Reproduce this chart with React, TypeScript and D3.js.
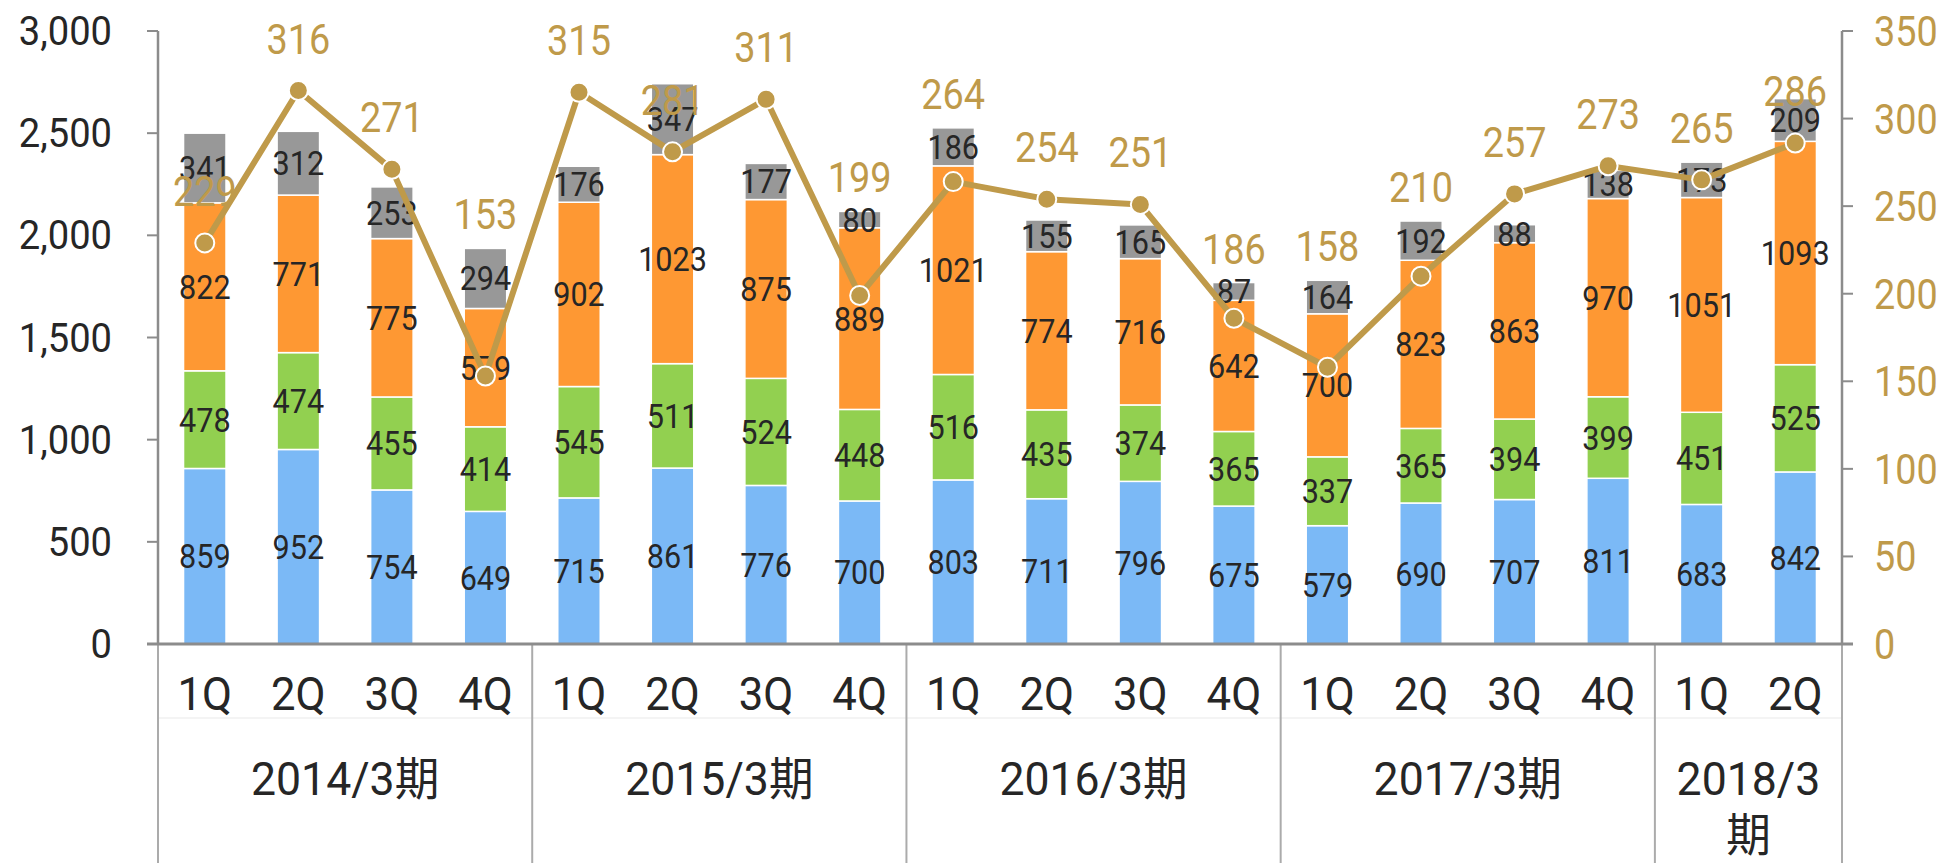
import React from "react";
import * as d3 from "d3";

const quarters = ["1Q","2Q","3Q","4Q","1Q","2Q","3Q","4Q","1Q","2Q","3Q","4Q","1Q","2Q","3Q","4Q","1Q","2Q"];
const groups = [
  { lines: ["2014/3期"], start: 0, end: 4 },
  { lines: ["2015/3期"], start: 4, end: 8 },
  { lines: ["2016/3期"], start: 8, end: 12 },
  { lines: ["2017/3期"], start: 12, end: 16 },
  { lines: ["2018/3", "期"], start: 16, end: 18 },
];
const blueVals = [859,952,754,649,715,861,776,700,803,711,796,675,579,690,707,811,683,842];
const greenVals = [478,474,455,414,545,511,524,448,516,435,374,365,337,365,394,399,451,525];
const orangeVals = [822,771,775,579,902,1023,875,889,1021,774,716,642,700,823,863,970,1051,1093];
const grayVals = [341,312,253,294,176,347,177,80,186,155,165,87,164,192,88,138,173,209];
const lineVals = [229,316,271,153,315,281,311,199,264,254,251,186,158,210,257,273,265,286];
// line labels that sit just above the bar stack instead of above the point
const lineLabelOnStack = [false,false,false,true,false,false,false,true,true,false,false,true,true,true,false,false,false,false];
const leftTicks = [0,500,1000,1500,2000,2500,3000];
const rightTicks = [0,50,100,150,200,250,300,350];

const seriesColors = ["#7BB9F6", "#92D050", "#FE9833", "#989898"];
const GOLD = "#BF9A4A";
const DARK = "#262626";
const FONT = "Roboto, 'Noto Sans CJK JP', sans-serif";

const W = 1944, H = 863;
const L = 158, R = 1842, TOP = 31, BOT = 644;

function T({ x, y, size, fill, anchor = "middle", sx = 1, children, weight = 400 }: any) {
  return (
    <text
      transform={`translate(${x},${y}) scale(${sx},1)`}
      textAnchor={anchor}
      fontSize={size}
      fill={fill}
      fontFamily={FONT}
      fontWeight={weight}
    >
      {children}
    </text>
  );
}

export default function App() {
  const idx = quarters.map((_, i) => i);
  const x = d3.scaleBand<number>().domain(idx).range([L, R]).paddingInner(0.546).paddingOuter(0.273);
  const xc = (i: number) => (x(i) as number) + x.bandwidth() / 2;
  const step = (R - L) / quarters.length;
  const yL = d3.scaleLinear().domain([0, 3000]).range([BOT, TOP]);
  const yR = d3.scaleLinear().domain([0, 350]).range([BOT, TOP]);

  const table = idx.map((i) => ({ i, s0: blueVals[i], s1: greenVals[i], s2: orangeVals[i], s3: grayVals[i] }));
  const stack = d3.stack<any>().keys(["s0", "s1", "s2", "s3"])(table);
  const stackTop = (i: number) => stack[stack.length - 1][i][1];

  const line = d3.line<number>().x((_, i) => xc(i)).y((v) => yR(v));

  return (
    <div style={{ position: "absolute", left: 0, top: 0 }}>
      <svg width={W} height={H} style={{ display: "block", background: "#fff" }}>
        {/* category area separators */}
        <line x1={L} x2={R} y1={718} y2={718} stroke="#f0f0f0" strokeWidth={1.5} />
        {groups.map((g, k) => (
          <line key={"sep" + k} x1={L + g.start * step} x2={L + g.start * step} y1={BOT} y2={H} stroke="#ababab" strokeWidth={2} />
        ))}
        <line x1={R} x2={R} y1={BOT} y2={H} stroke="#ababab" strokeWidth={2} />

        {/* bars */}
        {stack.map((s, si) =>
          s.map((d, i) => (
            <rect
              key={si + "-" + i}
              x={x(i)}
              width={x.bandwidth()}
              y={yL(d[1])}
              height={yL(d[0]) - yL(d[1])}
              fill={seriesColors[si]}
              stroke="#fff"
              strokeWidth={1.5}
            />
          ))
        )}

        {/* axes */}
        <line x1={L} x2={L} y1={TOP} y2={BOT} stroke="#8c8c8c" strokeWidth={2.5} />
        <line x1={R} x2={R} y1={TOP} y2={BOT} stroke="#8c8c8c" strokeWidth={2.5} />
        <line x1={L - 11} x2={R + 11} y1={BOT} y2={BOT} stroke="#8c8c8c" strokeWidth={3} />
        {leftTicks.map((t) => (
          <g key={"lt" + t}>
            <line x1={L - 11} x2={L} y1={yL(t)} y2={yL(t)} stroke="#8c8c8c" strokeWidth={2} />
            <T x={112} y={yL(t) + 14} size={41} fill={DARK} anchor="end" sx={0.93}>
              {d3.format(",")(t)}
            </T>
          </g>
        ))}
        {rightTicks.map((t) => (
          <g key={"rt" + t}>
            <line x1={R} x2={R + 11} y1={yR(t)} y2={yR(t)} stroke="#8c8c8c" strokeWidth={2} />
            <T x={1874} y={yR(t) + 15} size={42} fill={GOLD} anchor="start" sx={0.9}>
              {t}
            </T>
          </g>
        ))}

        {/* bar labels */}
        {stack.map((s, si) =>
          s.map((d, i) => (
            <T key={"bl" + si + "-" + i} x={xc(i)} y={(yL(d[0]) + yL(d[1])) / 2 + 12} size={34} fill={DARK} sx={0.9}>
              {d[1] - d[0]}
            </T>
          ))
        )}

        {/* line */}
        <path d={line(lineVals) as string} fill="none" stroke={GOLD} strokeWidth={6} strokeLinejoin="round" />
        {lineVals.map((v, i) => (
          <circle key={"c" + i} cx={xc(i)} cy={yR(v)} r={9.5} fill={GOLD} stroke="#fff" strokeWidth={2} />
        ))}
        {lineVals.map((v, i) => (
          <T
            key={"ll" + i}
            x={xc(i)}
            y={lineLabelOnStack[i] ? yL(stackTop(i)) - 19 : yR(v) - 37}
            size={43}
            fill={GOLD}
            sx={0.88}
          >
            {v}
          </T>
        ))}

        {/* category labels */}
        {quarters.map((q, i) => (
          <T key={"q" + i} x={xc(i)} y={710} size={47} fill={DARK} sx={0.93}>
            {q}
          </T>
        ))}
        {groups.map((g, k) =>
          g.lines.map((ln, j) => (
            <T key={"g" + k + "-" + j} x={L + ((g.start + g.end) / 2) * step} y={795 + j * 56} size={46} fill={DARK} sx={0.97}>
              {ln}
            </T>
          ))
        )}
      </svg>
    </div>
  );
}
